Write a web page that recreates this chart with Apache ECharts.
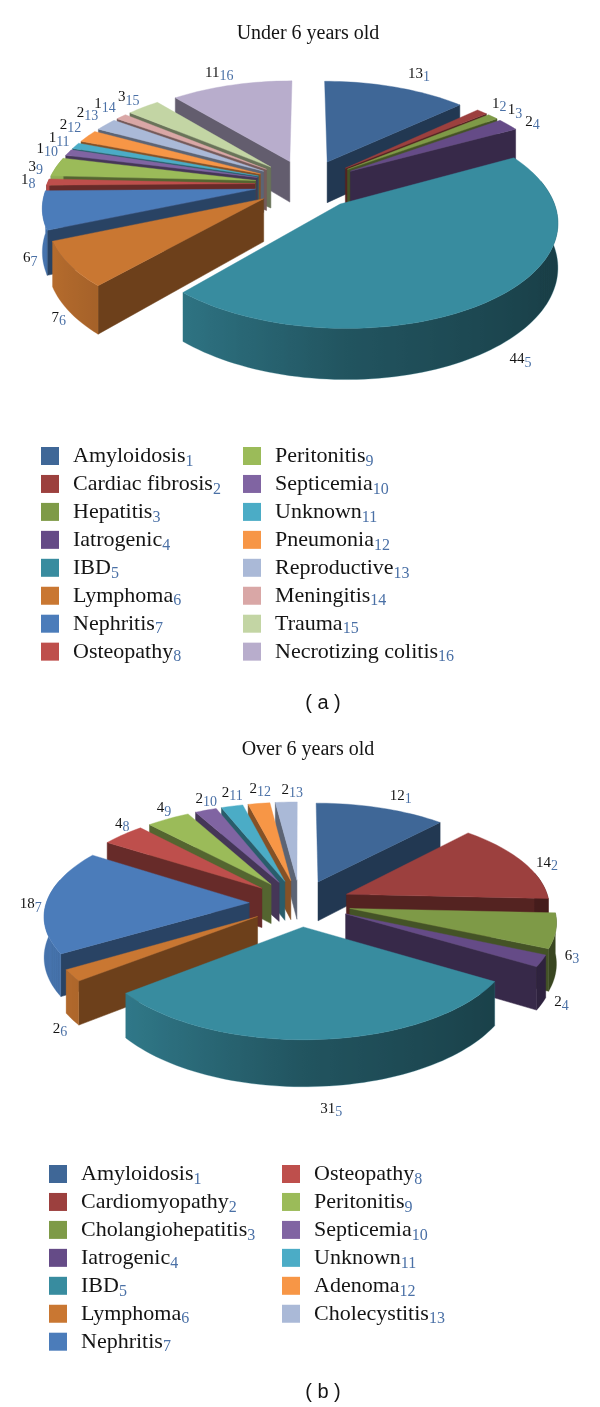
<!DOCTYPE html>
<html><head><meta charset="utf-8">
<style>html,body{margin:0;padding:0;background:#fff}#c{width:600px;height:1407px}</style>
<script src="https://cdn.jsdelivr.net/npm/echarts@6/dist/echarts.min.js"></script>
</head><body><div id="c"></div>
<script>
const namesA=['Amyloidosis','Cardiac fibrosis','Hepatitis','Iatrogenic','IBD','Lymphoma','Nephritis','Osteopathy','Peritonitis','Septicemia','Unknown','Pneumonia','Reproductive','Meningitis','Trauma','Necrotizing colitis'];
const valuesA=[13,1,1,2,44,7,6,1,3,1,1,2,2,1,3,11];
const colorsA=['#3F6797','#9C403E','#7E9A47','#654B87','#388C9F','#C97732','#4B7CBA','#BE4F4C','#9BBB59','#8064A2','#4BACC6','#F79646','#AAB9D7','#D9A7A6','#C3D5A4','#B8ADCC'];
const namesB=['Amyloidosis','Cardiomyopathy','Cholangiohepatitis','Iatrogenic','IBD','Lymphoma','Nephritis','Osteopathy','Peritonitis','Septicemia','Unknown','Adenoma','Cholecystitis'];
const valuesB=[12,14,6,2,31,2,18,4,4,2,2,2,2];
const colorsB=['#3F6797','#9C403E','#7E9A47','#654B87','#388C9F','#C97732','#4B7CBA','#BE4F4C','#9BBB59','#8064A2','#4BACC6','#F79646','#AAB9D7'];
const nudgeA=[[17,-5],[5,-1],[9,0],[10,3],[7,7],[11,5],[10,8],[1,0],[-1,3],[-3,0],[1,-3],[-1,-6],[-4,-6],[-3,-6],[-3,-3],[-7,-4]];
const nudgeB=[[14,-4],[8,6],[-5,-13],[-1,-1],[11,15],[8,9],[4,5],[12,-4],[5,-3],[7,-3],[5,-5],[4,-6],[7,-4]];
const SERIF='"Liberation Serif",serif', BLUE='#4A70A6', INK='#141414';
const pieA={cx:307,cy:184,R:208,Ry:99,k:.15,e:.25,h:42};
const pieB={cx:300,cy:903,R:203,Ry:93,k:.12,e:.25,h:40};
function mix(hex,f){const n=parseInt(hex.slice(1),16);return 'rgb('+[n>>16,(n>>8)&255,n&255].map(v=>Math.round(v*f)).join(',')+')';}
function buildPie(names,values,colors,nudge,pie){
  const total=values.reduce((a,b)=>a+b,0);let acc=0;
  const parts=values.map((v,i)=>{const a=acc/total*2*Math.PI;acc+=v;const b=acc/total*2*Math.PI;return {i,a,b,m:(a+b)/2};});
  function project(part,r,t){
    const X=pie.e*Math.sin(part.m)+r*Math.sin(t),Y=pie.e*Math.cos(part.m)+r*Math.cos(t),s=1/(1+pie.k*Y);
    return {x:pie.cx+pie.R*X*s,y:pie.cy-pie.Ry*Y*s,s};
  }
  const pt=(p,d)=>[p.x,p.y+(d?pie.h*p.s:0)];
  function render(part){
    const col=colors[part.i],kids=[];
    const seg=(pts,fill)=>kids.push({type:'polygon',shape:{points:pts},style:{fill,stroke:fill,lineWidth:.5}});
    const apex=project(part,0,0);
    if(Math.sin(part.a)<0){const o=project(part,1,part.a);seg([pt(apex),pt(o),pt(o,1),pt(apex,1)],mix(col,.54));}
    if(Math.sin(part.b)>0){const o=project(part,1,part.b);seg([pt(apex),pt(o),pt(o,1),pt(apex,1)],mix(col,.54));}
    const n=Math.max(2,Math.ceil((part.b-part.a)/.03)),top=[pt(apex)],up=[],down=[],marks=[];
    for(let j=0;j<=n;j++){
      const t=part.a+(part.b-part.a)*j/n,p=project(part,1,t);
      top.push(pt(p));
      if(Math.cos(t)<=.25){
        up.push(pt(p));down.unshift(pt(p,1));
        const sn=Math.sin(t);marks.push({x:p.x,f:sn<0?.6-.33*sn:.6-.16*sn});
      }
    }
    if(up.length>1){
      marks.sort((u,v)=>u.x-v.x);
      const x0=marks[0].x,x1=marks[marks.length-1].x;
      const stops=marks.map(q=>({offset:(q.x-x0)/Math.max(x1-x0,1),color:mix(col,q.f)}));
      const fill=new echarts.graphic.LinearGradient(x0,0,x1,0,stops,true);
      kids.push({type:'polygon',shape:{points:up.concat(down)},style:{fill,stroke:mix(col,marks[0].f),lineWidth:.3}});
    }
    kids.push({type:'polygon',shape:{points:top},style:{fill:col,stroke:col,lineWidth:.4}});
    const front=Math.cos(part.m)<0;
    const lp=project(part,1.1,part.m);
    kids.push({type:'text',z2:50,style:{
      x:lp.x+nudge[part.i][0],y:lp.y+(front?pie.h*lp.s*.9:0)+nudge[part.i][1],
      text:'{m|'+values[part.i]+'}{u|'+(part.i+1)+'}',align:'center',verticalAlign:'middle',
      rich:{m:{fontFamily:SERIF,fontSize:15,fill:INK,color:INK,verticalAlign:'bottom',padding:[0,0,3,0]},
            u:{fontFamily:SERIF,fontSize:14,fill:BLUE,color:BLUE,verticalAlign:'bottom'}}}});
    return {type:'group',children:kids};
  }
  return parts.slice().sort((p,q)=>Math.cos(q.m)-Math.cos(p.m)).map(part=>({
    type:'custom',name:names[part.i],coordinateSystem:'none',animation:false,silent:true,
    itemStyle:{color:colors[part.i]},data:[[values[part.i]]],renderItem:()=>render(part)}));
}
const subNo={};namesA.forEach((n,i)=>subNo[n]=i+1);namesB.forEach((n,i)=>subNo[n]=i+1);
function legend(data,left,top){return {data,left,top,orient:'vertical',icon:'rect',itemWidth:18,itemHeight:18,itemGap:.95,selectedMode:false,padding:0,
  formatter:n=>'{n|'+n+'}{s|'+subNo[n]+'}',
  textStyle:{lineHeight:15,padding:[12,0,0,9],rich:{n:{fontFamily:SERIF,fontSize:22,color:INK,verticalAlign:'bottom',lineHeight:15,padding:[0,0,2,0]},
    s:{fontFamily:SERIF,fontSize:16,color:BLUE,verticalAlign:'bottom',lineHeight:15}}}};}
const titleText=(text,x,y)=>({text,left:x,top:y,textAlign:'center',padding:0,textStyle:{fontFamily:SERIF,fontSize:20,fontWeight:'normal',color:INK}});
const capText=(text,x,y)=>({text,left:x,top:y,textAlign:'center',padding:0,textStyle:{fontFamily:'"Liberation Sans",sans-serif',fontSize:20,fontWeight:'normal',color:INK}});
const chart=echarts.init(document.getElementById('c'),null,{renderer:'canvas'});
chart.setOption({animation:false,backgroundColor:'#fff',
  title:[titleText('Under 6 years old',308,24),titleText('Over 6 years old',308,740),capText('( a )',323,693),capText('( b )',323,1382)],
  legend:[legend(namesA.slice(0,8),41,442.5),legend(namesA.slice(8),243,442.5),legend(namesB.slice(0,7),49,1160.5),legend(namesB.slice(7),282,1160.5)],
  series:[...buildPie(namesA,valuesA,colorsA,nudgeA,pieA),...buildPie(namesB,valuesB,colorsB,nudgeB,pieB)]});
</script></body></html>
